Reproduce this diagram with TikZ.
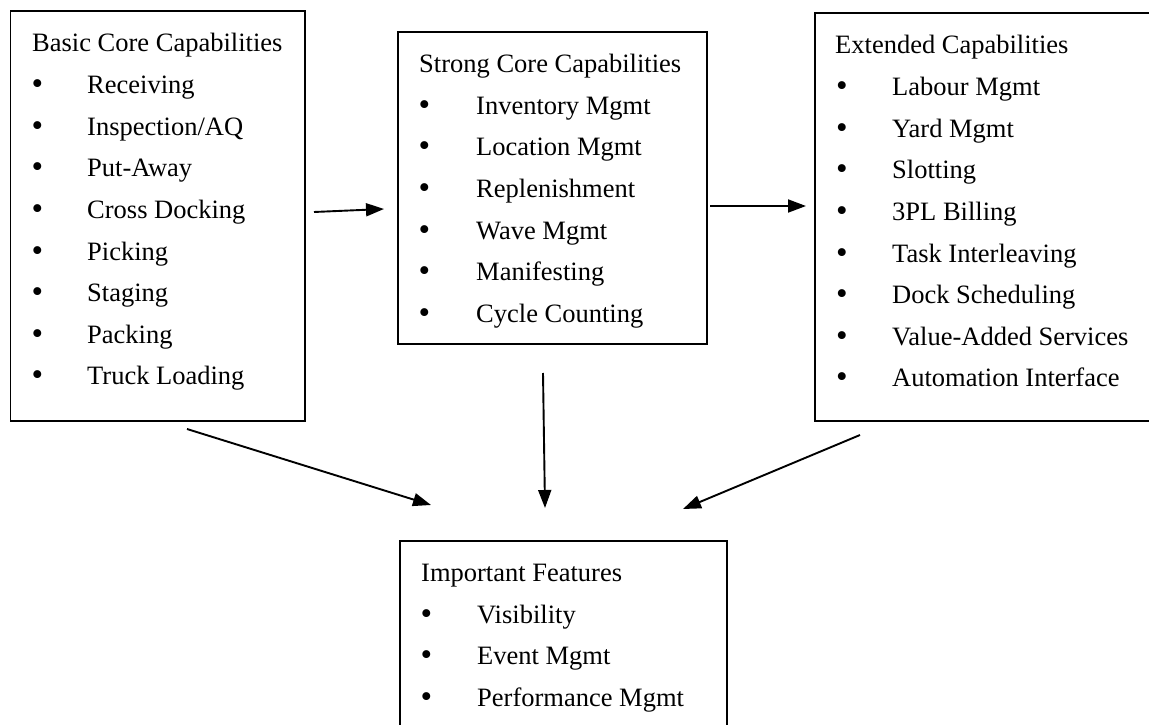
\documentclass[tikz,border=0pt]{standalone}
\usepackage{fontspec}
\setmainfont{Liberation Serif}
\usetikzlibrary{arrows.meta}

\tikzset{
  panel/.style={draw=black, line width=1.8pt, anchor=north west, inner sep=0pt, outer sep=0pt},
  heading/.style={anchor=base west, inner sep=0pt, font=\fontsize{26.5}{32}\selectfont},
  entry/.style={anchor=base west, inner sep=0pt, font=\fontsize{26.5}{32}\selectfont},
  dot/.style={anchor=base, inner sep=0pt, font=\fontsize{33}{36}\selectfont},
  link/.style={line width=1.9pt, -{Triangle[length=18pt,width=13pt]}}
}

% one panel's list: #1 name, #2 bullet x, #3 text x, #4 first baseline, #5 items
\newcommand{\panellist}[5]{%
  \foreach \txt [count=\i] in {#5} {
    \node[dot]   (#1-b\i) at (#2, {#4+41.6*\i+1}) {•};
    \node[entry] (#1-\i)  at (#3, {#4+41.6*\i}) {\txt};
  }%
}

\begin{document}
\begin{tikzpicture}[x=1pt, y=-1pt]
  \useasboundingbox (0,0) rectangle (1149,725);
  \clip (0,0) rectangle (1149,725);

  % four panels
  \node[panel, minimum width=294.5pt, minimum height=410pt] (basic)    at (10.5,11) {};
  \node[panel, minimum width=309pt,   minimum height=312pt] (strong)   at (398,32)  {};
  \node[panel, minimum width=345pt,   minimum height=408pt] (extended) at (815,13)  {};
  \node[panel, minimum width=327pt,   minimum height=220pt] (features) at (400,541) {};

  % headings
  \node[heading] (basic-t)    at (32,52)    {Basic Core Capabilities};
  \node[heading] (strong-t)   at (419,72.7) {Strong Core Capabilities};
  \node[heading] (extended-t) at (835,54)   {Extended Capabilities};
  \node[heading] (features-t) at (421,581.5) {Important Features};

  % bullet lists
  \panellist{basic}{37.5}{87}{52}{Receiving,Inspection/AQ,Put-Away,Cross Docking,Picking,Staging,Packing,Truck Loading}
  \panellist{strong}{424.5}{476}{72.7}{Inventory Mgmt,Location Mgmt,Replenishment,Wave Mgmt,Manifesting,Cycle Counting}
  \panellist{extended}{842}{892}{54}{Labour Mgmt,Yard Mgmt,Slotting,3PL Billing,Task Interleaving,Dock Scheduling,Value-Added Services,Automation Interface}
  \panellist{features}{426.5}{477}{581.5}{Visibility,Event Mgmt,Performance Mgmt}

  % free connector ends
  \coordinate (ab-s) at (314,212);
  \coordinate (ab-e) at (384,209);
  \coordinate (bc-s) at (710,206);
  \coordinate (bc-e) at (806,206);
  \coordinate (ad-s) at (187,429);
  \coordinate (ad-e) at (431,505);
  \coordinate (bd-s) at (543,373);
  \coordinate (bd-e) at (545,508);
  \coordinate (cd-s) at (860,435);
  \coordinate (cd-e) at (683,509);

  \draw[link] (ab-s) -- (ab-e);
  \draw[link] (bc-s) -- (bc-e);
  \draw[link] (ad-s) -- (ad-e);
  \draw[link] (bd-s) -- (bd-e);
  \draw[link] (cd-s) -- (cd-e);
\end{tikzpicture}
\end{document}
